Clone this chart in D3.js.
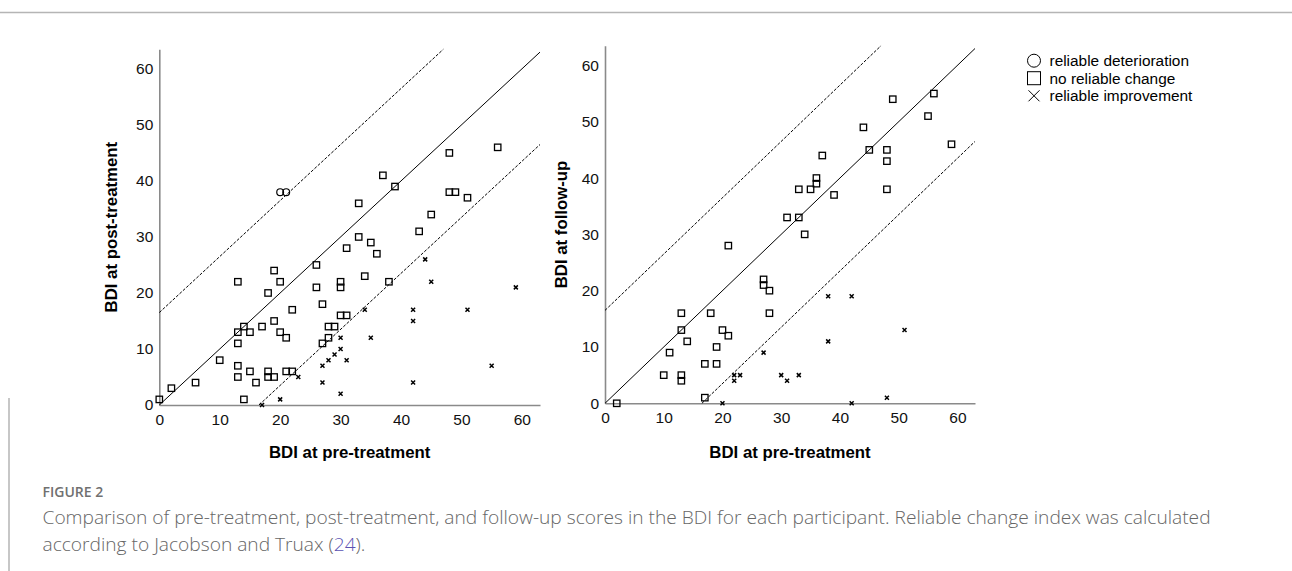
<!DOCTYPE html>
<html>
<head>
<meta charset="utf-8">
<script src="https://cdn.jsdelivr.net/npm/d3@7"></script>
<style>
  html, body { margin: 0; padding: 0; background: #fff; }
  svg { display: block; }
</style>
</head>
<body>
<svg id="chart" width="1292" height="571"></svg>
<script>
// ---------- DATA ----------
const xTicks = [0, 10, 20, 30, 40, 50, 60];
const yTicks = [0, 10, 20, 30, 40, 50, 60];
const rciBand = 16.5;

// Left panel: pre-treatment (x) vs post-treatment (y)
const leftNoChange = [
  [0,1],[2,3],[6,4],[10,8],[13,5],[13,7],[13,11],[13,13],[13,22],[14,1],[14,14],
  [15,6],[15,13],[16,4],[17,14],[18,5],[18,6],[18,20],[19,5],[19,15],[19,24],
  [20,13],[20,22],[21,6],[21,12],[22,6],[22,17],[26,21],[26,25],[27,11],[27,18],
  [28,12],[28,14],[29,14],[30,16],[30,21],[30,22],[31,16],[31,28],[33,30],[33,36],
  [34,23],[35,29],[36,27],[37,41],[38,22],[39,39],[43,31],[45,34],[48,38],[48,45],
  [49,38],[51,37],[56,46]
];
const leftDeterioration = [[20,38],[21,38]];
const leftImprovement = [
  [17,0],[20,1],[23,5],[27,4],[27,7],[28,8],[29,9],[30,2],[30,10],[30,12],[31,8],
  [34,17],[35,12],[42,4],[42,15],[42,17],[44,26],[45,22],[51,17],[55,7],[59,21]
];

// Right panel: pre-treatment (x) vs follow-up (y)
const rightNoChange = [
  [2,0],[10,5],[11,9],[13,4],[13,5],[13,13],[13,16],[14,11],[17,1],[17,7],[18,16],
  [19,7],[19,10],[20,13],[21,12],[21,28],[27,21],[27,22],[28,16],[28,20],[31,33],
  [33,33],[33,38],[34,30],[35,38],[36,39],[36,40],[37,44],[39,37],[44,49],[45,45],
  [48,38],[48,43],[48,45],[49,54],[55,51],[56,55],[59,46]
];
const rightDeterioration = [];
const rightImprovement = [
  [20,0],[22,4],[22,5],[23,5],[27,9],[30,5],[31,4],[33,5],[38,11],[38,19],[42,0],
  [42,19],[48,1],[51,13]
];

const legendLabels = ["reliable deterioration", "no reliable change", "reliable improvement"];
const xTitle = "BDI at pre-treatment";
const yTitles = ["BDI at post-treatment", "BDI at follow-up"];
const figureLabel = "FIGURE 2";
const captionLine1 = "Comparison of pre-treatment, post-treatment, and follow-up scores in the BDI for each participant. Reliable change index was calculated";
const captionLine2a = "according to Jacobson and Truax (";
const captionRef = "24";
const captionLine2b = ").";

// ---------- DRAWING ----------
const svg = d3.select("#chart");
const axisFont = "'Liberation Sans', Arial, Helvetica, sans-serif";

// frame lines
svg.append("line").attr("x1", 0).attr("x2", 1292).attr("y1", 12.5).attr("y2", 12.5)
  .attr("stroke", "#b5b5b5").attr("stroke-width", 1.5);
svg.append("line").attr("x1", 9).attr("x2", 9).attr("y1", 398).attr("y2", 571)
  .attr("stroke", "#b5b5b5").attr("stroke-width", 1.5);

const panels = [
  { x0: 159.3, x1: 540, y0: 405, y1: 49.3, noChange: leftNoChange, det: leftDeterioration, imp: leftImprovement, yTitle: yTitles[0], yTitleX: 117 },
  { x0: 605, x1: 975, y0: 403.3, y1: 45.7, noChange: rightNoChange, det: rightDeterioration, imp: rightImprovement, yTitle: yTitles[1], yTitleX: 567 }
];

panels.forEach(p => {
  const x = d3.scaleLinear().domain([0, 63]).range([p.x0, p.x1]);
  const y = d3.scaleLinear().domain([0, 63.5]).range([p.y0, p.y1]);
  const g = svg.append("g");

  // axes
  const xAxis = d3.axisBottom(x).tickValues(xTicks).tickSize(0).tickPadding(9);
  const yAxis = d3.axisLeft(y).tickValues(yTicks).tickSize(0).tickPadding(6);
  const gx = g.append("g").attr("transform", `translate(0,${p.y0})`).call(xAxis);
  const gy = g.append("g").attr("transform", `translate(${p.x0},0)`).call(yAxis);
  [gx, gy].forEach(a => {
    a.select(".domain").attr("stroke", "#8a8a8a").attr("stroke-width", 1.6);
    a.selectAll("text").attr("font-family", axisFont).attr("font-size", 15.5).attr("fill", "#111");
  });

  // reference lines
  const ymax = 63.5, xmax = 63;
  const line = d3.line().x(d => x(d[0])).y(d => y(d[1]));
  g.append("path").attr("d", line([[0,0],[Math.min(xmax, ymax), Math.min(xmax, ymax)]]))
    .attr("stroke", "#000").attr("stroke-width", 1).attr("fill", "none");
  g.append("path").attr("d", line([[0, rciBand],[ymax - rciBand, ymax]]))
    .attr("stroke", "#000").attr("stroke-width", 1).attr("fill", "none").attr("stroke-dasharray", "3,1.6");
  g.append("path").attr("d", line([[rciBand, 0],[xmax, xmax - rciBand]]))
    .attr("stroke", "#000").attr("stroke-width", 1).attr("fill", "none").attr("stroke-dasharray", "3,1.6");

  // markers
  const s = 6.4;
  g.selectAll("rect.nc").data(p.noChange).join("rect").attr("class", "nc")
    .attr("x", d => x(d[0]) - s/2).attr("y", d => y(d[1]) - s/2)
    .attr("width", s).attr("height", s)
    .attr("fill", "none").attr("stroke", "#000").attr("stroke-width", 1.3);
  g.selectAll("circle.det").data(p.det).join("circle").attr("class", "det")
    .attr("cx", d => x(d[0])).attr("cy", d => y(d[1])).attr("r", 3.4)
    .attr("fill", "none").attr("stroke", "#000").attr("stroke-width", 1.2);
  const c = 2;
  g.selectAll("path.imp").data(p.imp).join("path").attr("class", "imp")
    .attr("d", d => `M${x(d[0])-c},${y(d[1])-c}L${x(d[0])+c},${y(d[1])+c}M${x(d[0])-c},${y(d[1])+c}L${x(d[0])+c},${y(d[1])-c}`)
    .attr("stroke", "#000").attr("stroke-width", 1.5).attr("fill", "none");

  // titles
  g.append("text").attr("x", (p.x0 + p.x1) / 2).attr("y", 457.5)
    .attr("text-anchor", "middle").attr("font-family", axisFont).attr("font-weight", "bold")
    .attr("font-size", 16.8).attr("fill", "#000").text(xTitle);
  g.append("text").attr("transform", `translate(${p.yTitleX},${(p.y0 + p.y1) / 2}) rotate(-90)`)
    .attr("text-anchor", "middle").attr("font-family", axisFont).attr("font-weight", "bold")
    .attr("font-size", 16.8).attr("fill", "#000").text(p.yTitle);
});

// legend
const lg = svg.append("g");
const rows = [60.7, 78.2, 95.8];
const lx = 1034;
lg.append("circle").attr("cx", lx).attr("cy", rows[0]).attr("r", 6.5)
  .attr("fill", "none").attr("stroke", "#000").attr("stroke-width", 1);
lg.append("rect").attr("x", lx - 6.5).attr("y", rows[1] - 6.5).attr("width", 13).attr("height", 13)
  .attr("fill", "none").attr("stroke", "#000").attr("stroke-width", 1);
lg.append("path").attr("d", `M${lx-5.5},${rows[2]-5.5}L${lx+5.5},${rows[2]+5.5}M${lx-5.5},${rows[2]+5.5}L${lx+5.5},${rows[2]-5.5}`)
  .attr("stroke", "#000").attr("stroke-width", 1).attr("fill", "none");
lg.selectAll("text").data(legendLabels).join("text")
  .attr("x", 1049.5).attr("y", (d, i) => rows[i]).attr("dy", "0.36em")
  .attr("font-family", axisFont).attr("font-size", 15.4).attr("fill", "#000").text(d => d);

// caption
const capFont = "'Open Sans', 'Noto Sans', sans-serif";
svg.append("text").attr("x", 42.5).attr("y", 497).attr("font-family", capFont)
  .attr("font-weight", 600).attr("font-size", 14).attr("fill", "#707070").text(figureLabel);
const cap1 = svg.append("text").attr("x", 42.5).attr("y", 524).attr("font-family", capFont)
  .attr("font-weight", 300).attr("font-size", 17).attr("fill", "#666").text(captionLine1);
// fit first caption line to its measured width in the reference
const w = cap1.node().getComputedTextLength();
const fs = 17 * 1169 / w;
cap1.attr("font-size", fs);
const cap2 = svg.append("text").attr("x", 42.5).attr("y", 551).attr("font-family", capFont)
  .attr("font-weight", 300).attr("font-size", fs).attr("fill", "#666");
cap2.append("tspan").text(captionLine2a);
cap2.append("tspan").attr("fill", "#5b52b3").text(captionRef);
cap2.append("tspan").text(captionLine2b);
</script>
</body>
</html>
